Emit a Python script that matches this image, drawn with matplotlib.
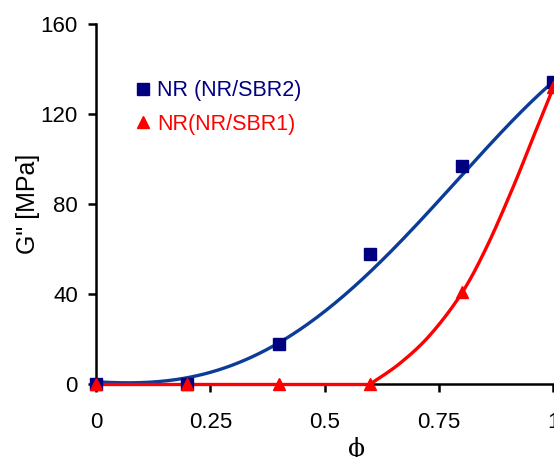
import numpy as np
import matplotlib
matplotlib.use("Agg")
import matplotlib.pyplot as plt

# measured data points
phi = [0, 0.2, 0.4, 0.6, 0.8, 1.0]
g_sbr2 = [0, 0, 18, 58, 97, 134]
g_sbr1 = [0, 0, 0, 0, 41, 132]

# model curves
fit2_x = [0, 0.044, 0.109, 0.197, 0.263, 0.328, 0.394, 0.452, 0.503, 0.600, 0.709, 0.797, 0.891, 1.0]
fit2_y = [1.0, 0.6, 0.4, 3.3, 6.2, 10.7, 17.3, 24.7, 32.1, 50.7, 73.6, 90.7, 112.9, 134.4]
fit1_x = [0, 0.2, 0.4, 0.6]
fit1_y = [0, 0, 0, 0]
fit1c_x = [0.6, 0.665, 0.731, 0.80, 0.855, 0.913, 0.957, 1.0]
fit1c_y = [0, 9.2, 21.8, 40.3, 61, 87.7, 109.9, 131.4]

xticks = [0, 0.25, 0.5, 0.75, 1]
xticklabels = ["0", "0.25", "0.5", "0.75", "1"]
yticks = [0, 40, 80, 120, 160]

plt.rcParams['font.family'] = ['Liberation Sans', 'DejaVu Sans']

def smooth(xs, ys, n=30):
    xs = np.asarray(xs, float); ys = np.asarray(ys, float)
    px, py = [], []
    N = len(xs)
    for i in range(N - 1):
        p0 = max(i - 1, 0); p3 = min(i + 2, N - 1)
        c1x = xs[i] + (xs[i + 1] - xs[p0]) / 6
        c1y = ys[i] + (ys[i + 1] - ys[p0]) / 6
        c2x = xs[i + 1] - (xs[p3] - xs[i]) / 6
        c2y = ys[i + 1] - (ys[p3] - ys[i]) / 6
        t = np.linspace(0, 1, n)
        bx = (1-t)**3*xs[i] + 3*(1-t)**2*t*c1x + 3*(1-t)*t**2*c2x + t**3*xs[i+1]
        by = (1-t)**3*ys[i] + 3*(1-t)**2*t*c1y + 3*(1-t)*t**2*c2y + t**3*ys[i+1]
        px.extend(bx); py.extend(by)
    return np.array(px), np.array(py)

fig = plt.figure(figsize=(5.54, 4.57), dpi=100)
ax = fig.add_axes([0.1733, 0.1597, 0.8250, 0.7878])

# smooth the read blue model curve with a low-order polynomial
coef = np.polyfit(fit2_x, fit2_y, 4)
bx = np.linspace(fit2_x[0], fit2_x[-1], 200)
ax.plot(bx, np.polyval(coef, bx), color='#0b3d98', lw=2.4, clip_on=False, zorder=2)
ax.plot(fit1_x, fit1_y, color='#ff0000', lw=2.4, clip_on=False, zorder=3)
rx, ry = smooth(fit1c_x, fit1c_y)
ax.plot(rx, ry, color='#ff0000', lw=2.4, clip_on=False, zorder=3)

ax.plot(phi, g_sbr2, linestyle='none', marker='s', ms=9, color='#000080',
        clip_on=False, zorder=4, label='NR (NR/SBR2)')
ax.plot(phi, g_sbr1, linestyle='none', marker='^', ms=9, color='#ff0000',
        clip_on=False, zorder=5, label='NR(NR/SBR1)')

ax.set_xlim(0, 1)
ax.set_ylim(0, 160)
ax.set_xticks(xticks)
ax.set_xticklabels(xticklabels)
ax.set_yticks(yticks)
for s in ['top', 'right']:
    ax.spines[s].set_visible(False)
for s in ['left', 'bottom']:
    ax.spines[s].set_linewidth(1.8)
ax.tick_params(axis='both', direction='out', length=6, width=1.8, labelsize=16)
ax.tick_params(axis='x', pad=14)
ax.tick_params(axis='y', pad=7)
ax.set_ylabel('G" [MPa]', fontsize=18)
ax.yaxis.set_label_coords(-0.1225, 0.5)
ax.set_xlabel('ϕ', fontsize=18, family=['DejaVu Serif'])
ax.xaxis.set_label_coords(0.571, -0.148)

leg = ax.legend(loc='upper left', bbox_to_anchor=(0.065, 0.868), frameon=False,
                fontsize=15.5, handletextpad=0.25, handlelength=0.8, labelspacing=0.58,
                borderaxespad=0)
for t, c in zip(leg.get_texts(), ['#000080', '#ff0000']):
    t.set_color(c)

fig.savefig('out.png', dpi=100)
